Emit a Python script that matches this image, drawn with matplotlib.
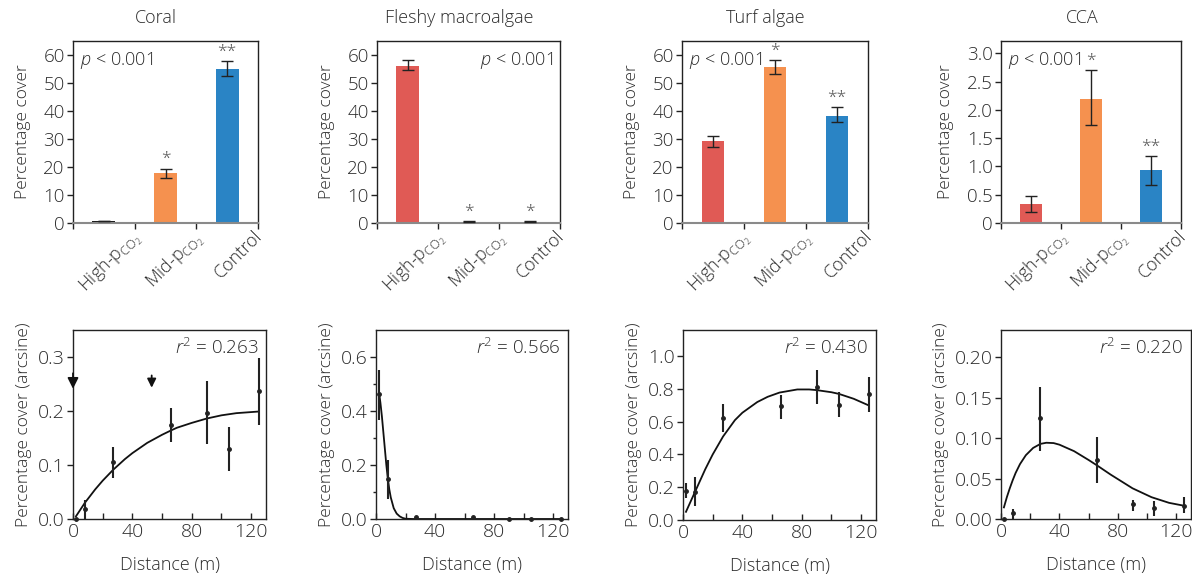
import numpy as np
import matplotlib
matplotlib.use("Agg")
import matplotlib.pyplot as plt
import matplotlib.transforms as mtransforms

plt.rcParams['font.family'] = ['Open Sans', 'DejaVu Sans']
plt.rcParams['font.weight'] = 'light'
plt.rcParams['axes.titleweight'] = 'light'
plt.rcParams['axes.labelweight'] = 'light'
plt.rcParams['mathtext.fontset'] = 'custom'
plt.rcParams['mathtext.rm'] = 'Open Sans:light'
plt.rcParams['mathtext.it'] = 'Open Sans:italic:light'
plt.rcParams['text.color'] = '#2b2b2b'
plt.rcParams['axes.labelcolor'] = '#2b2b2b'
plt.rcParams['xtick.color'] = '#222222'
plt.rcParams['ytick.color'] = '#222222'
plt.rcParams['xtick.labelcolor'] = '#2b2b2b'
plt.rcParams['ytick.labelcolor'] = '#2b2b2b'

# ---- top row: bar charts ----
groups = ["High-p$_{\\mathrm{CO_2}}$", "Mid-p$_{\\mathrm{CO_2}}$", "Control"]
bar_colors = ['#e05a55', '#f5914f', '#2a84c5']
titles = ["Coral", "Fleshy macroalgae", "Turf algae", "CCA"]

coral_mean = [0.6, 17.8, 55.0]
coral_lo = [0.6, 16.2, 52.4]
coral_hi = [0.6, 19.4, 57.9]
coral_stars = ["", "*", "**"]

fleshy_mean = [56.0, 0.5, 0.5]
fleshy_lo = [54.5, 0.2, 0.2]
fleshy_hi = [58.3, 0.8, 0.8]
fleshy_stars = ["", "*", "*"]

turf_mean = [29.4, 55.8, 38.3]
turf_lo = [27.3, 53.3, 36.2]
turf_hi = [31.1, 58.2, 41.3]
turf_stars = ["", "*", "**"]

cca_mean = [0.34, 2.19, 0.93]
cca_lo = [0.19, 1.73, 0.67]
cca_hi = [0.48, 2.70, 1.19]
cca_stars = ["", "*", "**"]

# ---- bottom row: distance gradients ----
dist = [2, 8, 27, 66, 90, 105, 125]

coral_y = [0.0, 0.018, 0.105, 0.174, 0.197, 0.129, 0.237]
coral_ylo = [0.0, 0.0, 0.076, 0.143, 0.138, 0.088, 0.174]
coral_yhi = [0.0, 0.035, 0.133, 0.205, 0.255, 0.170, 0.298]
coral_fit_x = [2, 8, 15, 20, 27, 35, 40, 50, 60, 66, 70, 80, 90, 100, 110, 125]
coral_fit_y = [0.005, 0.030, 0.055, 0.071, 0.091, 0.111, 0.122, 0.141, 0.156,
               0.164, 0.169, 0.178, 0.186, 0.192, 0.196, 0.199]

fleshy_y = [0.462, 0.148, 0.0074, 0.0074, 0.001, 0.001, 0.001]
fleshy_ylo = [0.368, 0.074, 0.0074, 0.0074, 0.001, 0.001, 0.001]
fleshy_yhi = [0.551, 0.220, 0.0074, 0.0074, 0.001, 0.001, 0.001]
fleshy_fit_x = [2, 3, 4, 5, 6, 7, 8, 9, 10, 12, 14, 16, 18, 20, 25, 30, 60, 90, 125]
fleshy_fit_y = [0.47, 0.43, 0.38, 0.32, 0.26, 0.20, 0.15, 0.11, 0.08, 0.04, 0.02,
                0.01, 0.004, 0.001, 0.0, 0.0, 0.0, 0.0, 0.0]

turf_y = [0.180, 0.173, 0.622, 0.694, 0.812, 0.704, 0.769]
turf_ylo = [0.133, 0.088, 0.537, 0.618, 0.710, 0.629, 0.659]
turf_yhi = [0.224, 0.261, 0.708, 0.765, 0.914, 0.780, 0.873]
turf_fit_x = [2, 8, 15, 20, 27, 35, 40, 50, 57, 65, 77, 85, 90, 100, 105, 115, 125]
turf_fit_y = [0.05, 0.17, 0.31, 0.40, 0.51, 0.61, 0.655, 0.72, 0.752, 0.778, 0.797,
              0.797, 0.793, 0.78, 0.77, 0.74, 0.70]

cca_y = [0.0, 0.007, 0.1245, 0.073, 0.018, 0.0132, 0.0165]
cca_ylo = [0.0, 0.0, 0.0845, 0.044, 0.0103, 0.0037, 0.007]
cca_yhi = [0.0, 0.013, 0.1637, 0.102, 0.024, 0.022, 0.027]
cca_fit_x = [2, 4, 6, 8, 10, 13, 17, 22, 27, 31, 36, 40, 50, 60, 66, 75, 90, 103, 115, 125]
cca_fit_y = [0.0144, 0.027, 0.038, 0.048, 0.057, 0.068, 0.079, 0.088, 0.093, 0.0944,
             0.094, 0.092, 0.084, 0.073, 0.066, 0.055, 0.038, 0.027, 0.020, 0.0165]

r2_labels = ["0.263", "0.566", "0.430", "0.220"]

fig = plt.figure(figsize=(11.92, 5.79), dpi=100)
W, H = 1192.0, 579.0


def px_axes(left, top, right, bottom):
    return fig.add_axes([left / W, 1 - bottom / H, (right - left) / W, (bottom - top) / H])


top_boxes = [(73, 41, 258, 223), (377, 41, 560, 223), (682, 41, 868, 223), (1001, 41, 1181, 223)]
bot_boxes = [(73, 330, 266, 519), (376, 330, 568, 519), (683, 330, 876, 520), (1001, 330, 1191, 519)]

bar_sets = [
    (coral_mean, coral_lo, coral_hi, coral_stars, 65, np.arange(0, 61, 10), None, 'left'),
    (fleshy_mean, fleshy_lo, fleshy_hi, fleshy_stars, 65, np.arange(0, 61, 10), None, 'right'),
    (turf_mean, turf_lo, turf_hi, turf_stars, 65, np.arange(0, 61, 10), None, 'left'),
    (cca_mean, cca_lo, cca_hi, cca_stars, 3.22, np.arange(0, 3.01, 0.5),
     ["0", "0.5", "1.0", "1.5", "2.0", "2.5", "3.0"], 'left'),
]

for i, (mean, lo, hi, stars, ymax, yt, ytl, ppos) in enumerate(bar_sets):
    ax = px_axes(*top_boxes[i])
    x = np.arange(len(groups))
    cols = list(bar_colors)
    if i == 0:
        cols[0] = '#1a1a1a'
    mean = np.array(mean)
    yerr = [mean - np.array(lo), np.array(hi) - mean]
    ax.bar(x, mean, width=0.37, color=cols, zorder=2)
    ax.errorbar(x, mean, yerr=yerr, fmt='none', ecolor='#222222', elinewidth=1,
                capsize=4, capthick=1, zorder=3)
    for xi, h, s in zip(x, hi, stars):
        if s:
            ax.annotate(s, (xi, h), xytext=(0, 1), textcoords='offset points',
                        ha='center', va='bottom', fontsize=12.5, color='#555555')
    ax.set_xlim(-0.5, 2.5)
    ax.set_ylim(0, ymax)
    ax.set_yticks(yt)
    if ytl is not None:
        ax.set_yticklabels(ytl)
    ax.set_xticks(x)
    ax.set_xticklabels(groups, rotation=45, ha='right', rotation_mode='anchor', fontsize=13)
    ax.set_xticks([-0.5, 0.5, 1.5, 2.5], minor=True)
    ax.tick_params(axis='x', which='major', length=0, pad=0)
    ax.tick_params(axis='x', which='minor', length=4, width=1, direction='out')
    ax.tick_params(axis='y', length=4, width=1, direction='out', labelsize=13.5, pad=2)
    offset = mtransforms.ScaledTranslation(0.26, -0.04, fig.dpi_scale_trans)
    for lab in ax.get_xticklabels():
        lab.set_transform(lab.get_transform() + offset)
    for sp in ['left', 'top', 'right']:
        ax.spines[sp].set_color('#222222')
        ax.spines[sp].set_linewidth(1)
    ax.spines['bottom'].set_color('#8a8a8a')
    ax.spines['bottom'].set_linewidth(1.5)
    ax.set_ylabel("Percentage cover", fontsize=12.5, labelpad=9)
    ax.set_title(titles[i], fontsize=13, pad=13, x=0.45)
    if ppos == 'left':
        ax.text(0.04, 0.95, "$p$ < 0.001", transform=ax.transAxes, ha='left', va='top',
                fontsize=13)
    else:
        ax.text(0.96, 0.95, "$p$ < 0.001", transform=ax.transAxes, ha='right', va='top',
                fontsize=13)

line_sets = [
    (coral_y, coral_ylo, coral_yhi, coral_fit_x, coral_fit_y, 0.35, [0, 0.1, 0.2, 0.3], "{:.1f}", None),
    (fleshy_y, fleshy_ylo, fleshy_yhi, fleshy_fit_x, fleshy_fit_y, 0.70, [0, 0.2, 0.4, 0.6], "{:.1f}",
     [0.1, 0.3, 0.5]),
    (turf_y, turf_ylo, turf_yhi, turf_fit_x, turf_fit_y, 1.16, [0, 0.2, 0.4, 0.6, 0.8, 1.0], "{:.1f}", None),
    (cca_y, cca_ylo, cca_yhi, cca_fit_x, cca_fit_y, 0.234, [0, 0.05, 0.10, 0.15, 0.20], "{:.2f}", None),
]

for i, (yv, ylo, yhi, fx, fy, ymax, yt, fmt, yminor) in enumerate(line_sets):
    ax = px_axes(*bot_boxes[i])
    yv = np.array(yv)
    yerr = [yv - np.array(ylo), np.array(yhi) - yv]
    ax.errorbar(dist, yv, yerr=yerr, fmt='o', color='#222222', ms=2.5, elinewidth=1.5,
                capsize=0, zorder=3, clip_on=False)
    ax.plot(fx, fy, color='#111111', lw=1.3, zorder=2)
    ax.set_xlim(0, 130)
    ax.set_ylim(0, ymax)
    ax.set_xticks([0, 40, 80, 120])
    ax.set_xticks([20, 60, 100], minor=True)
    ax.set_yticks(yt)
    ax.set_yticklabels([fmt.format(v) for v in yt])
    if yminor is not None:
        ax.set_yticks(yminor, minor=True)
    ax.tick_params(axis='x', which='both', direction='in', length=4, width=1,
                   labelsize=14, pad=3)
    ax.tick_params(axis='y', which='major', direction='out', length=4, width=1,
                   labelsize=14, pad=2)
    ax.tick_params(axis='y', which='minor', direction='out', length=2.5, width=1)
    for sp in ax.spines.values():
        sp.set_color('#222222')
        sp.set_linewidth(1)
    ax.set_xlabel("Distance (m)", fontsize=13, labelpad=11)
    ax.set_ylabel("Percentage cover (arcsine)", fontsize=12.5, labelpad=4)
    ax.text(0.96, 0.96, "$r^2$ = " + r2_labels[i], transform=ax.transAxes, ha='right',
            va='top', fontsize=13.5)
    if i == 0:
        ax.annotate('', xy=(0, 0.236), xytext=(0, 0.275),
                    arrowprops=dict(arrowstyle='-|>', color='#111111', lw=1.3,
                                    mutation_scale=16), annotation_clip=False)
        ax.annotate('', xy=(53, 0.238), xytext=(53, 0.271),
                    arrowprops=dict(arrowstyle='-|>', color='#111111', lw=1.3,
                                    mutation_scale=13), annotation_clip=False)

fig.savefig("out.png", dpi=100)
